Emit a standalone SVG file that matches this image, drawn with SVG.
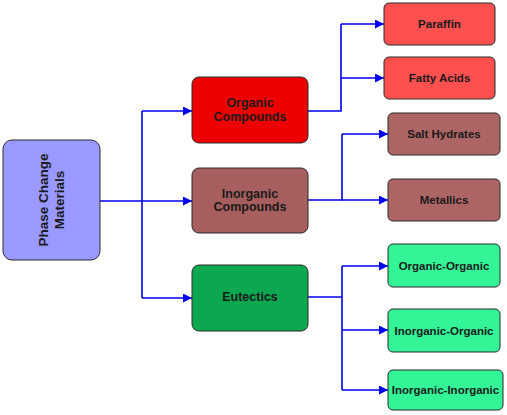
<svg xmlns="http://www.w3.org/2000/svg" width="507" height="415" viewBox="0 0 507 415">
<style>
.box{stroke:#2b2b2b;stroke-width:1}
.t{font-family:"Liberation Sans",Arial,sans-serif;font-weight:bold;font-size:11.5px;fill:#1a1a1a;text-anchor:middle;dominant-baseline:central}
.m{font-size:12.5px}
.c{fill:none;stroke:#0000ee;stroke-width:1.6}
</style>
<defs>
<marker id="ah" viewBox="0 0 10 10" refX="10" refY="5" markerWidth="11" markerHeight="9" markerUnits="userSpaceOnUse" orient="auto">
<path d="M0,0 L10,5 L0,10 Z" fill="#0000ee"/>
</marker>
</defs>
<rect width="507" height="415" fill="#ffffff"/>
<g id="connectors">
<path class="c" d="M100,201 H142"/>
<path class="c" d="M142,111 V298"/>
<path class="c" d="M142,111 H192" marker-end="url(#ah)"/>
<path class="c" d="M142,201 H192" marker-end="url(#ah)"/>
<path class="c" d="M142,298 H192" marker-end="url(#ah)"/>
<path class="c" d="M308,111 H341 V24"/>
<path class="c" d="M341,24 H384" marker-end="url(#ah)"/>
<path class="c" d="M341,78 H384" marker-end="url(#ah)"/>
<path class="c" d="M308,200 H342 V134"/>
<path class="c" d="M342,134 H388" marker-end="url(#ah)"/>
<path class="c" d="M342,200 H388" marker-end="url(#ah)"/>
<path class="c" d="M308,297 H342"/>
<path class="c" d="M342,266 V390"/>
<path class="c" d="M342,266 H388" marker-end="url(#ah)"/>
<path class="c" d="M342,330 H388" marker-end="url(#ah)"/>
<path class="c" d="M342,390 H388" marker-end="url(#ah)"/>
</g>
<g id="pcm">
<rect class="box" x="3" y="140" width="97" height="120" rx="9" fill="#9999ff"/>
<text class="t" transform="translate(51,200) rotate(-90)" style="font-size:13.5px"><tspan x="0" y="-8">Phase Change</tspan><tspan x="0" y="8">Materials</tspan></text>
</g>
<g id="organic">
<rect class="box" x="192" y="77" width="116" height="66" rx="7" fill="#ee0000"/>
<text class="t m" x="250" y="103">Organic</text>
<text class="t m" x="250" y="116.5">Compounds</text>
</g>
<g id="inorganic">
<rect class="box" x="192" y="168" width="116" height="65" rx="7" fill="#a65e5e"/>
<text class="t m" x="250" y="193.5">Inorganic</text>
<text class="t m" x="250" y="207">Compounds</text>
</g>
<g id="eutectics">
<rect class="box" x="192" y="265" width="116" height="66" rx="7" fill="#0ba850"/>
<text class="t m" x="250" y="297">Eutectics</text>
</g>
<g id="paraffin">
<rect class="box" x="384" y="3" width="111" height="42" rx="5" fill="#ff5050"/>
<text class="t" x="439.5" y="24">Paraffin</text>
</g>
<g id="fatty">
<rect class="box" x="384" y="57" width="111" height="42" rx="5" fill="#ff5050"/>
<text class="t" x="439.5" y="78">Fatty Acids</text>
</g>
<g id="salt">
<rect class="box" x="388" y="113" width="112" height="42" rx="5" fill="#ad6464"/>
<text class="t" x="444" y="134">Salt Hydrates</text>
</g>
<g id="metallics">
<rect class="box" x="388" y="179" width="112" height="42" rx="5" fill="#ad6464"/>
<text class="t" x="444" y="200">Metallics</text>
</g>
<g id="oo">
<rect class="box" x="388" y="244" width="112" height="43" rx="5" fill="#33f598"/>
<text class="t" x="444" y="265.5">Organic-Organic</text>
</g>
<g id="io">
<rect class="box" x="388" y="309" width="112" height="43" rx="5" fill="#33f598"/>
<text class="t" x="444" y="330.5">Inorganic-Organic</text>
</g>
<g id="ii">
<rect class="box" x="388" y="370" width="115" height="40" rx="5" fill="#33f598"/>
<text class="t" x="445.5" y="390">Inorganic-Inorganic</text>
</g>
</svg>
